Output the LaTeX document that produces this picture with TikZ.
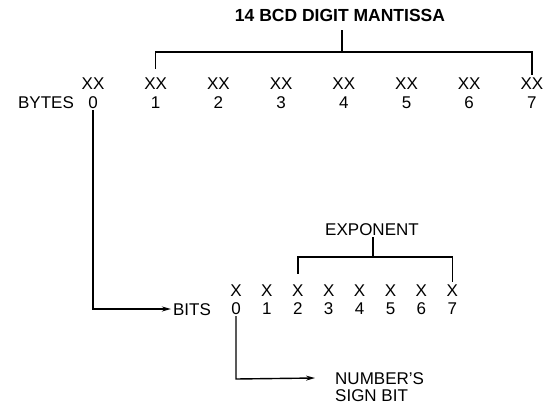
\documentclass[tikz,border=0pt]{standalone}
\usepackage{fontspec}
\setmainfont{Liberation Sans}
\usetikzlibrary{arrows.meta}
\begin{document}
\begin{tikzpicture}[x=1pt,y=-1pt,
  txt/.style={font=\fontsize{17}{19}\selectfont, inner sep=2pt, text height=12pt, text depth=0pt},
  ttl/.style={font=\bfseries\fontsize{17.5}{20}\selectfont, inner sep=2pt, text height=12.5pt, text depth=0pt},
  wire/.style={line width=1.4pt},
  arr/.style={wire, -{Stealth[length=9pt,width=5pt]}}]
\useasboundingbox (0,0) rectangle (544,405);
% title
\node[ttl] (title) at (340,15) {14 BCD DIGIT MANTISSA};
\node[txt] (bytes) at (46,102) {BYTES};
\foreach \i in {0,...,7} {
  \node[txt] (b\i) at ({93+62.7*\i},83) {XX};
  \node[txt] (d\i) at ({93+62.7*\i},102) {\i};
}
% bits
\node[txt] (bits) at (192,309) {BITS};
\foreach \i in {0,...,7} {
  \node[txt] (x\i) at ({236+30.9*\i},290) {X};
  \node[txt] (n\i) at ({236+30.9*\i},308) {\i};
}
\node[txt] (expo) at (372,229) {EXPONENT};
\node[txt, anchor=west] (num) at (333,378) {NUMBER'S};
\node[txt, anchor=west] (sign) at (333,395) {SIGN BIT};
% mantissa bracket
\coordinate (mbar) at (342,52);
\coordinate (mtop) at (342,30);
\draw[wire, shorten <=6pt] (b1.north) |- (mbar) -| (b7.north);
\draw[wire] (mbar) -- (mtop);
% exponent bracket
\coordinate (ebar) at (373,257);
\coordinate (etop) at (373,237);
\draw[wire, shorten <=8pt] (x2.north) |- (ebar) -| (x7.north);
\draw[wire] (ebar) -- (etop);
% byte 0 -> bits
\coordinate (bcorner) at (93,309);
\draw[arr] (d0.south) -- (bcorner) -- (bits.west);
% bit 0 -> sign
\coordinate (scorner) at (236,379);
\draw[arr] (n0.south) -- (scorner) -- ([xshift=-18pt]num.west);
\end{tikzpicture}
\end{document}
